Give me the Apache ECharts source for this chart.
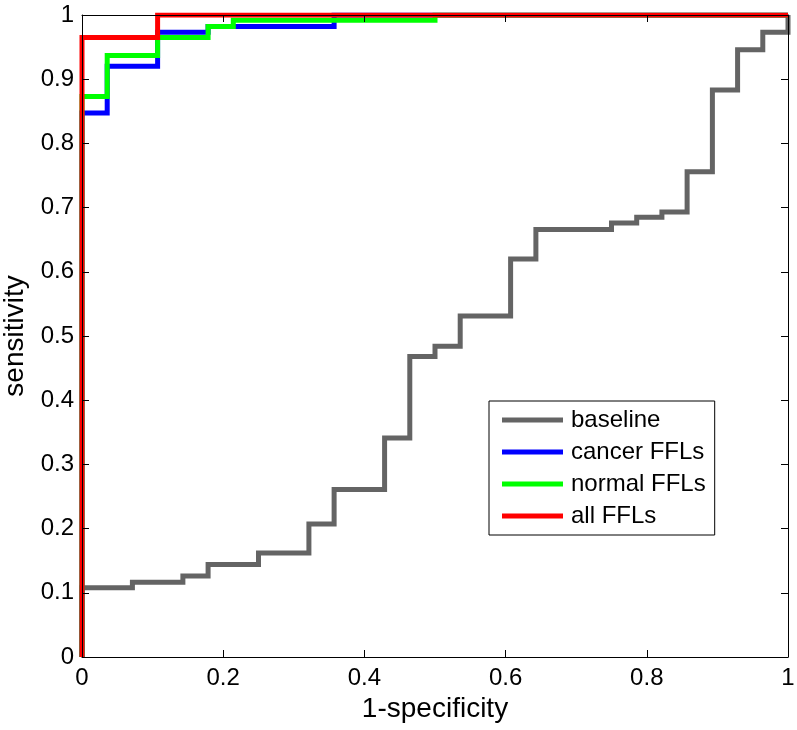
<!DOCTYPE html>
<html>
<head>
<meta charset="utf-8">
<script src="https://cdn.jsdelivr.net/npm/echarts@6/dist/echarts.min.js"></script>
<style>
  html, body { margin: 0; padding: 0; background: #fff; }
  #chart { width: 797px; height: 730px; }
</style>
</head>
<body>
<div id="chart"></div>
<script>
// ROC vertices: x = 1-specificity where the curve jumps, y = sensitivity after the jump
const baselineX = [0, 0, 0.0714, 0.1429, 0.1786, 0.25, 0.3214, 0.3571, 0.4286, 0.4643, 0.5, 0.5357, 0.6071, 0.6429, 0.75, 0.7857, 0.8214, 0.8571, 0.8929, 0.9286, 0.9643, 1]
const baselineY = [0, 0.108, 0.1165, 0.126, 0.144, 0.162, 0.207, 0.261, 0.341, 0.468, 0.484, 0.531, 0.620, 0.666, 0.676, 0.685, 0.693, 0.756, 0.883, 0.946, 0.973, 1]

const cancerX = [0, 0, 0.0357, 0.1071, 0.1786, 0.3571, 1]
const cancerY = [0, 0.8475, 0.92, 0.973, 0.982, 1, 1]

const normalX = [0, 0, 0.0357, 0.1071, 0.1786, 0.2143, 0.5, 1]
const normalY = [0, 0.873, 0.937, 0.965, 0.982, 0.992, 1, 1]

const allX = [0, 0, 0.1071, 1]
const allY = [0, 0.965, 1, 1]

const seriesNames = ['baseline', 'cancer FFLs', 'normal FFLs', 'all FFLs']
const seriesColors = ['#646464', '#0000ff', '#00ff00', '#ff0000']

const font = 'Liberation Sans, Arial, Helvetica, sans-serif'

const chart = echarts.init(document.getElementById('chart'))

// 把 x、y 数组合成点
function toPoints(xs, ys) {
  return xs.map((x, i) => [x, ys[i]])
}

const allData = [
  toPoints(baselineX, baselineY),
  toPoints(cancerX, cancerY),
  toPoints(normalX, normalY),
  toPoints(allX, allY)
]

const axisCommon = {
  type: 'value',
  min: 0,
  max: 1,
  z: 10,
  splitLine: { show: false },
  axisLine: { show: true, onZero: false, lineStyle: { color: '#000', width: 1 } },
  axisTick: { show: true, inside: true, length: 7, lineStyle: { color: '#000' } }
}

const option = {
  backgroundColor: '#fff',
  animation: false,
  grid: { left: 82, right: 9, top: 15, bottom: 73, outerBoundsMode: 'none', containLabel: false },
  legend: {
    orient: 'vertical',
    left: 489,
    top: 401,
    data: seriesNames,
    icon: 'rect',
    itemWidth: 61,
    itemHeight: 5,
    itemGap: 8,
    padding: [7, 9, 7, 13],
    borderColor: '#000',
    borderWidth: 1,
    borderRadius: 0,
    backgroundColor: '#fff',
    selectedMode: false,
    textStyle: { fontFamily: font, fontSize: 24, color: '#000', lineHeight: 24, padding: [0, 0, 0, 3] }
  },
  xAxis: [
    Object.assign({}, axisCommon, {
      position: 'bottom',
      interval: 0.2,
      name: '1-specificity',
      nameLocation: 'middle',
      nameGap: 38,
      nameTextStyle: { fontFamily: font, fontSize: 28, color: '#000' },
      axisLabel: { fontFamily: font, fontSize: 24, color: '#000', margin: 9 }
    }),
    Object.assign({}, axisCommon, {
      position: 'top',
      interval: 0.2,
      axisLabel: { show: false }
    })
  ],
  yAxis: [
    Object.assign({}, axisCommon, {
      position: 'left',
      interval: 0.1,
      name: 'sensitivity',
      nameLocation: 'middle',
      nameGap: 49,
      nameTextStyle: { fontFamily: font, fontSize: 28, color: '#000' },
      axisLabel: { fontFamily: font, fontSize: 24, color: '#000', margin: 8 }
    }),
    Object.assign({}, axisCommon, {
      position: 'right',
      interval: 0.1,
      axisLabel: { show: false }
    })
  ],
  series: seriesNames.map((name, i) => ({
    name: name,
    type: 'line',
    xAxisIndex: 0,
    yAxisIndex: 0,
    data: allData[i],
    step: 'end',
    showSymbol: false,
    symbol: 'none',
    clip: true,
    z: 2 + i,
    itemStyle: { color: seriesColors[i] },
    lineStyle: { color: seriesColors[i], width: 5, cap: 'butt', join: 'miter' }
  }))
}

chart.setOption(option)
</script>
</body>
</html>
